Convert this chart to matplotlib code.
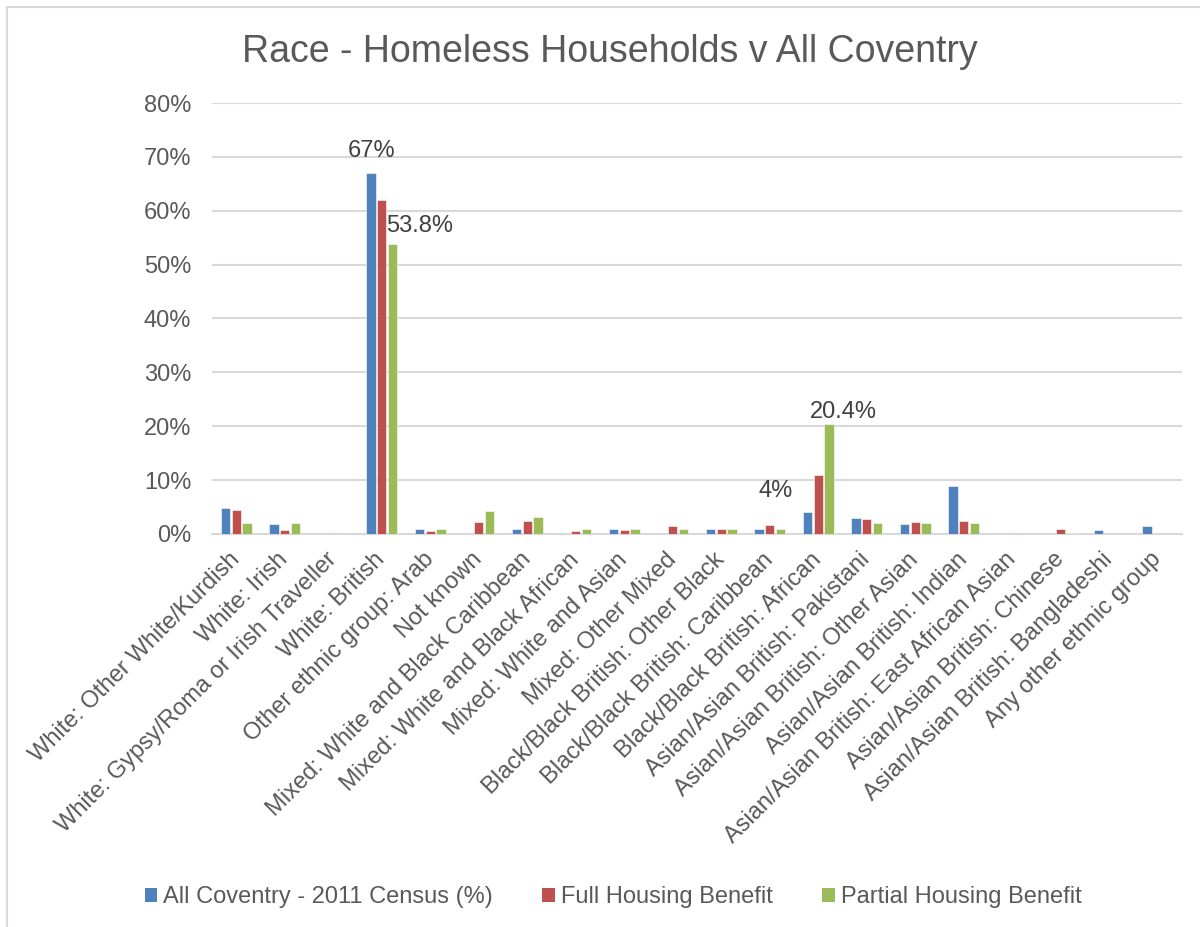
import numpy as np
import matplotlib.pyplot as plt
from matplotlib.patches import Patch
from matplotlib.lines import Line2D

plt.rcParams['font.family'] = ['Liberation Sans', 'DejaVu Sans']

categories = [
    "White: Other White/Kurdish",
    "White: Irish",
    "White: Gypsy/Roma or Irish Traveller",
    "White: British",
    "Other ethnic group: Arab",
    "Not known",
    "Mixed: White and Black Caribbean",
    "Mixed: White and Black African",
    "Mixed: White and Asian",
    "Mixed: Other Mixed",
    "Black/Black British: Other Black",
    "Black/Black British: Caribbean",
    "Black/Black British: African",
    "Asian/Asian British: Pakistani",
    "Asian/Asian British: Other Asian",
    "Asian/Asian British: Indian",
    "Asian/Asian British: East African Asian",
    "Asian/Asian British: Chinese",
    "Asian/Asian British: Bangladeshi",
    "Any other ethnic group",
]

# percentages per category
census_2011 = [4.9, 1.9, 0.0, 67.0, 0.9, 0.0, 0.9, 0.0, 0.9, 0.0,
               0.9, 0.9, 4.0, 2.9, 1.9, 8.9, 0.0, 0.0, 0.7, 1.4]
full_hb = [4.4, 0.7, 0.25, 62.0, 0.5, 2.2, 2.5, 0.5, 0.7, 1.4,
           1.0, 1.6, 10.9, 2.7, 2.2, 2.5, 0.25, 1.0, 0.0, 0.0]
partial_hb = [2.0, 2.0, 0.0, 53.8, 1.0, 4.3, 3.1, 1.0, 1.0, 1.0,
              1.0, 1.0, 20.4, 2.0, 2.0, 2.0, 0.0, 0.1, 0.0, 0.0]

series_names = ["All Coventry - 2011 Census (%)", "Full Housing Benefit",
                "Partial Housing Benefit"]
colors = ["#4F81BD", "#C0504D", "#9BBB59"]
ytick_vals = [0, 10, 20, 30, 40, 50, 60, 70, 80]

# (series index, category index, text, offset in pixels)
callouts = [
    (0, 3, "67%", (0, 11)),
    (2, 3, "53.8%", (27, 7)),
    (0, 12, "4%", (-32, 10)),
    (2, 12, "20.4%", (14, 1)),
]

text_col = "#595959"
grid_col = "#D9D9D9"
fs = 17

fig = plt.figure(figsize=(12, 9.27), dpi=100)
ax = fig.add_axes([212 / 1200, 1 - 534 / 927, 970 / 1200, 431 / 927])

x = np.arange(len(categories))
width = 0.19
step = 0.22
all_series = [census_2011, full_hb, partial_hb]
for i, (vals, col, name) in enumerate(zip(all_series, colors, series_names)):
    ax.bar(x + (i - 1) * step, vals, width, color=col, label=name,
           edgecolor="white", linewidth=0.4, zorder=3)

for si, ci, txt, off in callouts:
    ax.annotate(txt, (x[ci] + (si - 1) * step, all_series[si][ci]),
                xytext=off, textcoords="offset pixels",
                ha="center", va="bottom", fontsize=fs, color="#404040", zorder=4)

ax.set_xlim(-0.5, len(categories) - 0.5)
ax.set_ylim(0, 80)
ax.set_yticks(ytick_vals)
ax.set_yticklabels([f"{v}%" for v in ytick_vals])
ax.yaxis.grid(True, color=grid_col, linewidth=1.5, zorder=0)
ax.set_axisbelow(True)
for s in ["top", "right", "left"]:
    ax.spines[s].set_visible(False)
ax.spines["bottom"].set_color(grid_col)
ax.spines["bottom"].set_linewidth(1.5)
ax.tick_params(axis="both", length=0, colors=text_col, labelsize=fs)
ax.tick_params(axis="y", pad=15)

ax.set_xticks(x)
ax.set_xticklabels(categories, rotation=45, ha="right",
                   rotation_mode="anchor", va="center")
ax.tick_params(axis="x", pad=16)

fig.text(610 / 1200, 1 - 52 / 927, "Race - Homeless Households v All Coventry",
         ha="center", va="center", fontsize=27, color=text_col)

handles = [Patch(facecolor=c, edgecolor="none") for c in colors]
fig.legend(handles, series_names, loc="center", bbox_to_anchor=(613 / 1200, 1 - 897 / 927),
           ncol=3, frameon=False, fontsize=fs, labelcolor=text_col,
           handlelength=0.53, handleheight=0.53, handletextpad=0.25, columnspacing=2.1)

# chart frame
fig.add_artist(Line2D([7 / 1200, 7 / 1200], [0, 1 - 7 / 927], color=grid_col, lw=1.5))
fig.add_artist(Line2D([7 / 1200, 1], [1 - 7 / 927, 1 - 7 / 927], color=grid_col, lw=1.5))

fig.savefig("out.png", dpi=100, facecolor="white")
